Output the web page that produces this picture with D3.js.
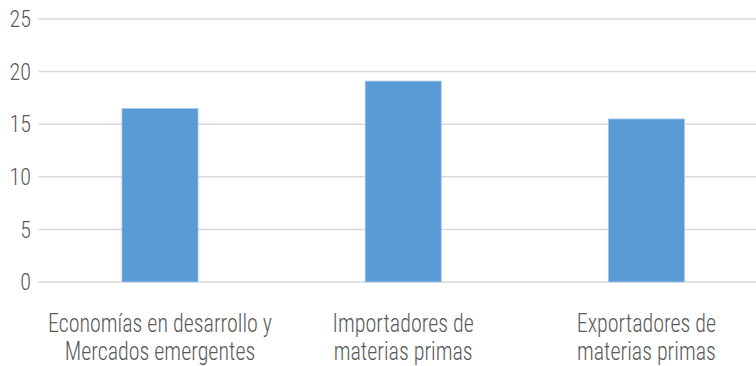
<!DOCTYPE html>
<html>
<head>
<meta charset="utf-8">
<script src="https://cdn.jsdelivr.net/npm/d3@7"></script>
<style>
  body { margin: 0; background: #fff; }
  svg { display: block; }
  text { font-family: "Roboto Condensed", "Liberation Sans Narrow", "DejaVu Sans Condensed", sans-serif; font-weight: 300; fill: #595959; }
</style>
</head>
<body>
<svg width="756" height="366"></svg>
<script>
var categories = [
  ["Economías en desarrollo y", "Mercados emergentes"],
  ["Importadores de", "materias primas"],
  ["Exportadores de", "materias primas"]
];
var values = [16.5, 19.1, 15.5];
var yTicks = [0, 5, 10, 15, 20, 25];

var svg = d3.select("svg");
var margins = {top: 19, right: 0, bottom: 84, left: 38.4};
var plotRight = 768;   // plot runs past the window's right edge
var height = 366 - margins.top - margins.bottom;

var x = d3.scaleBand()
  .domain(d3.range(categories.length))
  .range([margins.left, plotRight])
  .paddingInner(0.687)
  .paddingOuter(0.3435);

var y = d3.scaleLinear().domain([0, 25]).range([margins.top + height, margins.top]);

// gridlines
svg.append("g")
  .selectAll("line")
  .data(yTicks)
  .enter().append("line")
    .attr("x1", margins.left)
    .attr("x2", plotRight)
    .attr("y1", function(d){ return y(d); })
    .attr("y2", function(d){ return y(d); })
    .attr("stroke", "#d9d9d9")
    .attr("stroke-width", 1.5);

// y labels
var yaxis = d3.axisLeft(y).tickValues(yTicks).tickSize(0).tickPadding(8);
var gy = svg.append("g")
  .attr("transform", "translate(" + margins.left + ",0)")
  .call(yaxis);
gy.select("path").remove();
gy.selectAll("text")
  .attr("font-size", 24)
  .attr("font-family", null)
  .attr("fill", "#595959")
  .attr("transform", "scale(0.92,1)");

// bars
svg.append("g")
  .selectAll("rect")
  .data(values)
  .enter().append("rect")
    .attr("x", function(d, i){ return x(i); })
    .attr("y", function(d){ return y(d); })
    .attr("width", x.bandwidth())
    .attr("height", function(d){ return y(0) - y(d); })
    .attr("fill", "#5b9bd5")
    .attr("stroke", "#a9c9ec")
    .attr("stroke-width", 0.75);

// category labels
var lab = svg.append("g")
  .selectAll("text")
  .data(categories)
  .enter().append("text")
    .attr("text-anchor", "middle")
    .attr("font-size", 25)
    .attr("transform", function(d, i){
      return "translate(" + (x(i) + x.bandwidth() / 2) + ",0) scale(0.88,1)";
    });

lab.selectAll("tspan")
  .data(function(d){ return d; })
  .enter().append("tspan")
    .attr("x", 0)
    .attr("y", function(d, i){ return 332 + i * 28; })
    .text(function(d){ return d; });
</script>
</body>
</html>
